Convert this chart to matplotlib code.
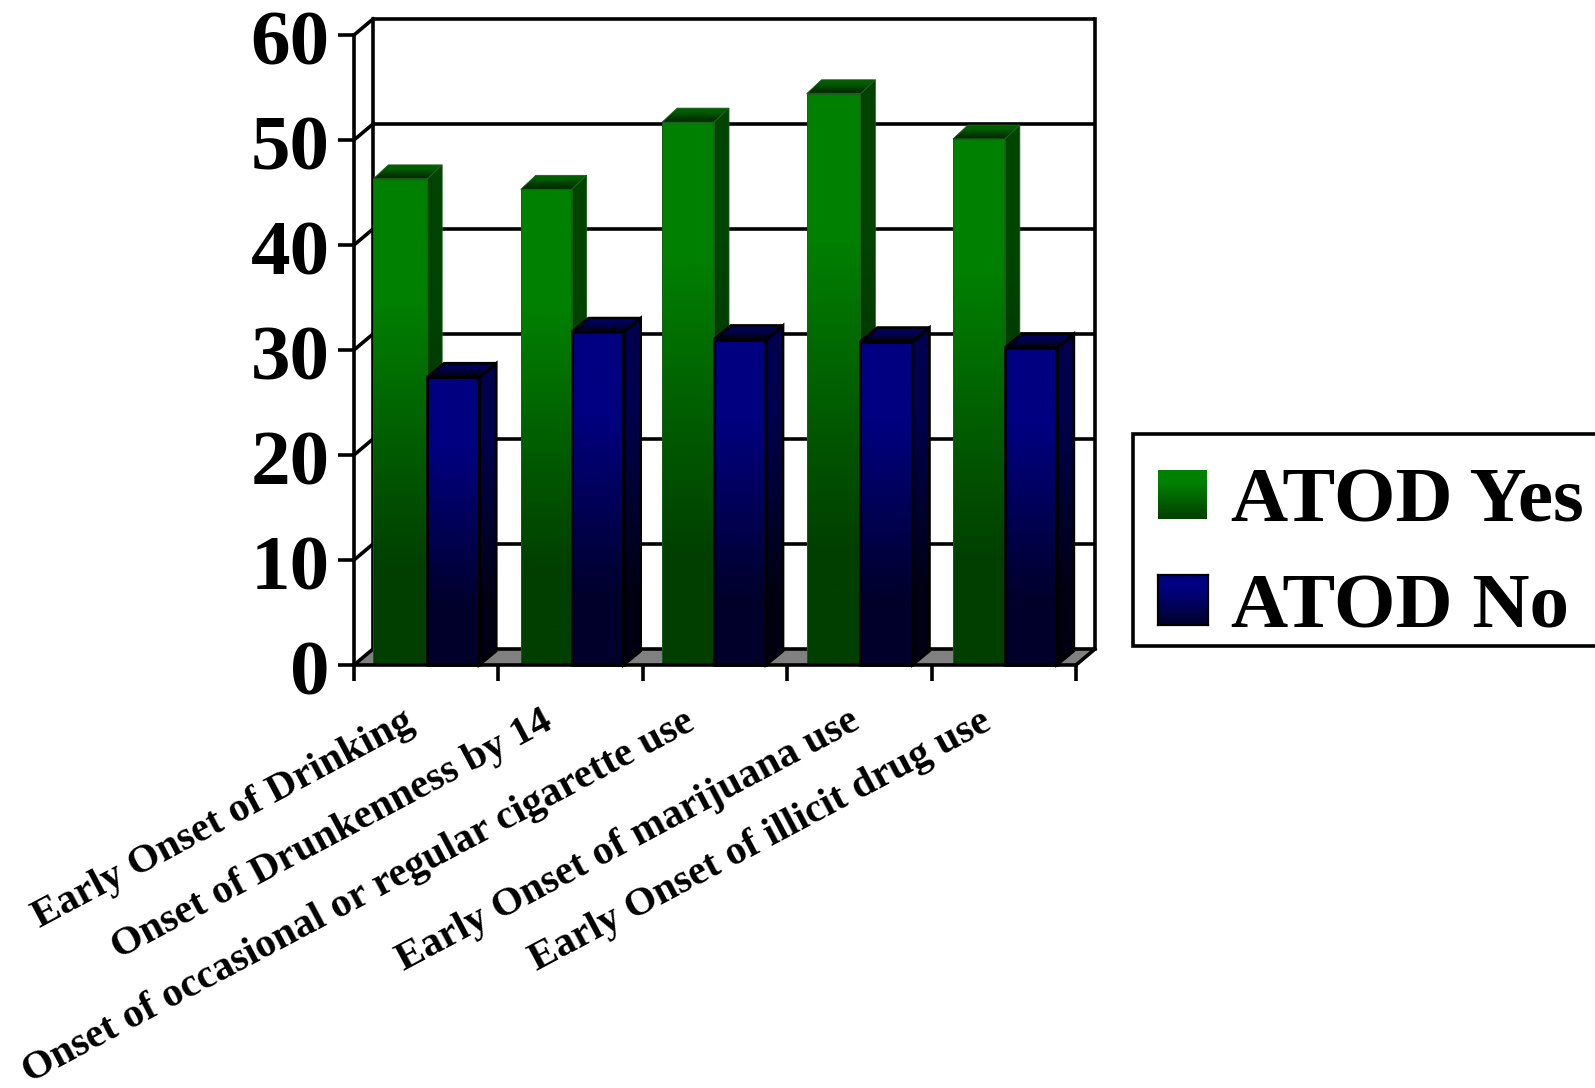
import numpy as np
import matplotlib
matplotlib.use('Agg')
import matplotlib.pyplot as plt
from matplotlib.colors import LinearSegmentedColormap
from matplotlib.patches import Polygon, Rectangle
from matplotlib.transforms import ScaledTranslation

# chart data
categories = ["Early Onset of Drinking", "Onset of Drunkenness by 14",
              "Onset of occasional or regular cigarette use",
              "Early Onset of marijuana use", "Early Onset of illicit drug use"]
atod_yes = [46.3, 45.3, 51.7, 54.4, 50.1]
atod_no = [27.4, 31.7, 31.0, 30.8, 30.2]
y_ticks = [0, 10, 20, 30, 40, 50, 60]
series_names = ["ATOD Yes", "ATOD No"]

W, H = 1595, 1088
LEFT, RIGHT, TOP, BOTTOM = 354, 1076, 35, 665
WALL_DX, WALL_DY = 19, 16   # back wall offset, px
LW = 2.6

plt.rcParams['font.family'] = ['Liberation Serif', 'DejaVu Serif']
plt.rcParams['font.weight'] = 'bold'

stops = [(0.0, 0.0), (0.2, 0.0), (0.75, 1.0), (1.0, 1.0)]


def make_cmap(dark, bright):
    """Vertical shading, dark at the floor and bright towards the top."""
    return LinearSegmentedColormap.from_list(
        'shade', [(pos, bright if k else dark) for pos, k in stops])


green_front = make_cmap('#003f00', '#008000')
green_side = make_cmap('#002a00', '#004400')
green_top = make_cmap('#003000', '#006000')
blue_front = make_cmap('#00002a', '#000080')
blue_side = make_cmap('#000012', '#00004e')
blue_top = make_cmap('#000020', '#000060')

gradient = np.linspace(1, 0, 256).reshape(-1, 1)

fig = plt.figure(figsize=(W / 100, H / 100), dpi=100, facecolor='white')
ax = fig.add_axes([LEFT / W, 1 - BOTTOM / H, (RIGHT - LEFT) / W, (BOTTOM - TOP) / H])
ax.set_xlim(0, len(categories))
ax.set_ylim(0, 60)

# pixel offsets expressed in data units
px_x = len(categories) / (RIGHT - LEFT)
px_y = 60 / (BOTTOM - TOP)
wall_x, wall_y = WALL_DX * px_x, WALL_DY * px_y
n = len(categories)


def shaded_face(verts, cmap, extent, zorder):
    """Fill a polygon with a vertical gradient spanning extent."""
    im = ax.imshow(gradient, cmap=cmap, vmin=0, vmax=1, extent=extent, aspect='auto',
                   interpolation='bilinear', zorder=zorder)
    clip = Polygon(verts, closed=True, transform=ax.transData)
    im.set_clip_path(clip)


def draw_bar(x0, width, value, depth, front, side, top, edge, edge_lw, zorder):
    bar_x, bar_y = depth[0] * px_x, depth[1] * px_y
    x1 = x0 + width
    back_top = value + bar_y
    side_face = [(x1, 0), (x1 + bar_x, bar_y), (x1 + bar_x, back_top), (x1, value)]
    top_face = [(x0, value), (x1, value), (x1 + bar_x, back_top), (x0 + bar_x, back_top)]
    front_face = [(x0, 0), (x1, 0), (x1, value), (x0, value)]
    shaded_face(side_face, side, (x1, x1 + bar_x, 0, back_top), zorder)
    shaded_face(top_face, top, (x0, x1 + bar_x, value, back_top), zorder)
    shaded_face(front_face, front, (x0, x1, 0, value), zorder)
    for verts in (side_face, top_face, front_face):
        ax.add_patch(Polygon(verts, closed=True, fill=False, edgecolor=edge,
                             linewidth=edge_lw, zorder=zorder + 0.1, clip_on=False))


# floor
ax.add_patch(Polygon([(0, 0), (n, 0), (n + wall_x, wall_y), (wall_x, wall_y)], closed=True,
                     facecolor='#808080', edgecolor='none', zorder=1, clip_on=False))

# back wall grid and side wall segments
for v in y_ticks:
    ax.plot([wall_x, n + wall_x], [v + wall_y, v + wall_y], color='black', lw=LW,
            zorder=2, clip_on=False, solid_capstyle='butt')
    ax.plot([0, wall_x], [v, v + wall_y], color='black', lw=LW, zorder=2, clip_on=False)
ax.plot([wall_x, wall_x], [wall_y, 60 + wall_y], color='black', lw=LW, zorder=2, clip_on=False)
ax.plot([n + wall_x, n + wall_x], [wall_y, 60 + wall_y], color='black', lw=LW, zorder=2, clip_on=False)
ax.plot([n, n + wall_x], [0, wall_y], color='black', lw=LW, zorder=2, clip_on=False)

# bars, green behind blue in each group; starts are fractions of a category slot
green_starts = [0.134, 0.155, 0.134, 0.134, 0.148]
blue_starts = [0.507, 0.507, 0.493, 0.507, 0.507]
blue_width = 0.36
for i in range(n):
    gx = i + green_starts[i]
    bx = i + blue_starts[i]
    draw_bar(gx, bx - gx, atod_yes[i], (15, 14), green_front, green_side, green_top,
             '#1c5c1c', 0.6, 3 + i * 2)
    draw_bar(bx, blue_width, atod_no[i], (17, 14), blue_front, blue_side, blue_top,
             'black', 2.0, 4 + i * 2)

ax.set_xlim(0, n)
ax.set_ylim(0, 60)
ax.patch.set_visible(False)

# axes
for name in ('top', 'right'):
    ax.spines[name].set_visible(False)
for name in ('left', 'bottom'):
    ax.spines[name].set_linewidth(LW)
    ax.spines[name].set_zorder(20)
ax.set_xticks(range(n + 1))
ax.set_xticklabels([])
ax.set_yticks(y_ticks)
ax.set_yticklabels([str(v) for v in y_ticks], fontsize=57, fontweight='bold', va='center')
ax.tick_params(axis='both', length=11.5, width=LW, color='black')
ax.tick_params(axis='y', pad=6)
# the value labels hang a little below their ticks
drop = ScaledTranslation(0, -11 / 100, fig.dpi_scale_trans)
for label in ax.get_yticklabels():
    label.set_transform(label.get_transform() + drop)

# slanted category labels, right end anchored below the axis
label_offsets = [62, 56, 54, 74, 62]
for i, name in enumerate(categories):
    ax.annotate(name, xy=(i, 0), xytext=(label_offsets[i], -63), textcoords='offset pixels',
                rotation=28, ha='right', va='baseline', rotation_mode='anchor',
                fontsize=29.6, fontweight='bold', annotation_clip=False)

# legend box runs off the right edge of the figure
fig.add_artist(Rectangle((1133 / W, 1 - 646 / H), 480 / W, 212 / H, transform=fig.transFigure,
                         facecolor='white', edgecolor='black', linewidth=LW, zorder=-1))
swatches = [(1158, 470, 49, 49, green_front, 'none'), (1158, 575, 50, 50, blue_front, 'black')]
for (sx, sy, sw, sh, cmap, edge), label in zip(swatches, series_names):
    sax = fig.add_axes([sx / W, 1 - (sy + sh) / H, sw / W, sh / H])
    sax.imshow(np.linspace(0.75, 0.0, 64).reshape(-1, 1) + 0.2, cmap=cmap, vmin=0, vmax=1,
               aspect='auto', interpolation='bilinear')
    sax.set_xticks([])
    sax.set_yticks([])
    for spine in sax.spines.values():
        spine.set_visible(edge != 'none')
        spine.set_edgecolor(edge)
        spine.set_linewidth(1.6)
    fig.text(1231 / W, 1 - (sy + sh + 3) / H, label, fontsize=57, fontweight='bold',
             ha='left', va='baseline')

fig.savefig('out.png', dpi=100)
